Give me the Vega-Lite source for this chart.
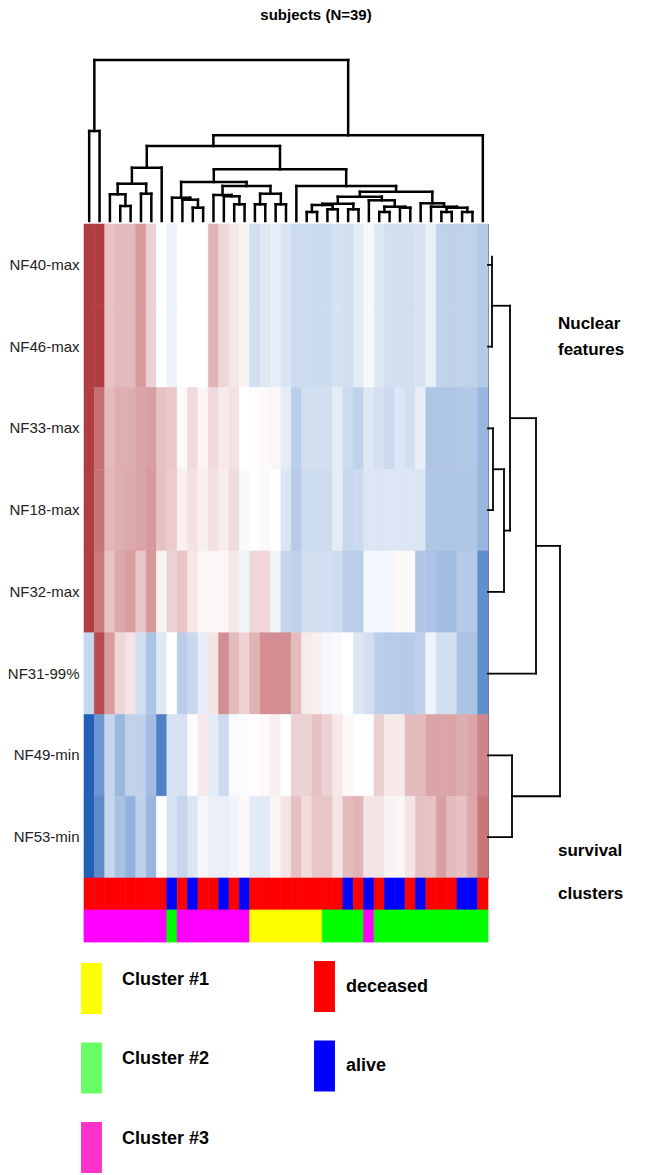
{
"$schema": "https://vega.github.io/schema/vega-lite/v6.json",
"background": "white",
"padding": {"left": 6, "top": 8, "right": 0, "bottom": 0},
"bounds": "flush",
"spacing": 0,
"config": {"view": {"stroke": null}, "font": "Liberation Sans"},
"resolve": {"scale": {"color": "independent", "stroke": "independent", "fill": "independent"}, "legend": {"color": "independent", "fill": "independent"}},
"datasets": {
"tree": [
{"x":0.5,"x2":1.5,"y":90,"y2":90},{"x":0.5,"x2":0.5,"y":0,"y2":90},{"x":1.5,"x2":1.5,"y":0,"y2":90},
{"x":3.5,"x2":4.5,"y":15,"y2":15},{"x":3.5,"x2":3.5,"y":0,"y2":15},{"x":4.5,"x2":4.5,"y":0,"y2":15},
{"x":2.5,"x2":4,"y":26.7,"y2":26.7},{"x":2.5,"x2":2.5,"y":0,"y2":26.7},{"x":4,"x2":4,"y":15,"y2":26.7},
{"x":5.5,"x2":6.5,"y":27.3,"y2":27.3},{"x":5.5,"x2":5.5,"y":0,"y2":27.3},{"x":6.5,"x2":6.5,"y":0,"y2":27.3},
{"x":3.25,"x2":6,"y":37.3,"y2":37.3},{"x":3.25,"x2":3.25,"y":26.7,"y2":37.3},{"x":6,"x2":6,"y":27.3,"y2":37.3},
{"x":4.625,"x2":7.5,"y":53.3,"y2":53.3},{"x":4.625,"x2":4.625,"y":37.3,"y2":53.3},{"x":7.5,"x2":7.5,"y":0,"y2":53.3},
{"x":10.5,"x2":11.5,"y":13.3,"y2":13.3},{"x":10.5,"x2":10.5,"y":0,"y2":13.3},{"x":11.5,"x2":11.5,"y":0,"y2":13.3},
{"x":9.5,"x2":11,"y":21.3,"y2":21.3},{"x":9.5,"x2":9.5,"y":0,"y2":21.3},{"x":11,"x2":11,"y":13.3,"y2":21.3},
{"x":8.5,"x2":10.25,"y":23.3,"y2":23.3},{"x":8.5,"x2":8.5,"y":0,"y2":23.3},{"x":10.25,"x2":10.25,"y":21.3,"y2":23.3},
{"x":14.5,"x2":15.5,"y":16.7,"y2":16.7},{"x":14.5,"x2":14.5,"y":0,"y2":16.7},{"x":15.5,"x2":15.5,"y":0,"y2":16.7},
{"x":13.5,"x2":15,"y":24.7,"y2":24.7},{"x":13.5,"x2":13.5,"y":0,"y2":24.7},{"x":15,"x2":15,"y":16.7,"y2":24.7},
{"x":12.5,"x2":14.25,"y":26,"y2":26},{"x":12.5,"x2":12.5,"y":0,"y2":26},{"x":14.25,"x2":14.25,"y":24.7,"y2":26},
{"x":16.5,"x2":17.5,"y":16.7,"y2":16.7},{"x":16.5,"x2":16.5,"y":0,"y2":16.7},{"x":17.5,"x2":17.5,"y":0,"y2":16.7},
{"x":18.5,"x2":19.5,"y":16.7,"y2":16.7},{"x":18.5,"x2":18.5,"y":0,"y2":16.7},{"x":19.5,"x2":19.5,"y":0,"y2":16.7},
{"x":17,"x2":19,"y":27.3,"y2":27.3},{"x":17,"x2":17,"y":16.7,"y2":27.3},{"x":19,"x2":19,"y":16.7,"y2":27.3},
{"x":13.375,"x2":18,"y":35,"y2":35},{"x":13.375,"x2":13.375,"y":26,"y2":35},{"x":18,"x2":18,"y":27.3,"y2":35},
{"x":9.375,"x2":15.6875,"y":39,"y2":39},{"x":9.375,"x2":9.375,"y":23.3,"y2":39},{"x":15.6875,"x2":15.6875,"y":35,"y2":39},
{"x":21.5,"x2":22.5,"y":9,"y2":9},{"x":21.5,"x2":21.5,"y":0,"y2":9},{"x":22.5,"x2":22.5,"y":0,"y2":9},
{"x":23.5,"x2":24.5,"y":11.7,"y2":11.7},{"x":23.5,"x2":23.5,"y":0,"y2":11.7},{"x":24.5,"x2":24.5,"y":0,"y2":11.7},
{"x":22,"x2":24,"y":16,"y2":16},{"x":22,"x2":22,"y":9,"y2":16},{"x":24,"x2":24,"y":11.7,"y2":16},
{"x":25.5,"x2":26.5,"y":11.7,"y2":11.7},{"x":25.5,"x2":25.5,"y":0,"y2":11.7},{"x":26.5,"x2":26.5,"y":0,"y2":11.7},
{"x":23,"x2":26,"y":17.3,"y2":17.3},{"x":23,"x2":23,"y":16,"y2":17.3},{"x":26,"x2":26,"y":11.7,"y2":17.3},
{"x":28.5,"x2":29.5,"y":9,"y2":9},{"x":28.5,"x2":28.5,"y":0,"y2":9},{"x":29.5,"x2":29.5,"y":0,"y2":9},
{"x":30.5,"x2":31.5,"y":13.3,"y2":13.3},{"x":30.5,"x2":30.5,"y":0,"y2":13.3},{"x":31.5,"x2":31.5,"y":0,"y2":13.3},
{"x":29,"x2":31,"y":14.3,"y2":14.3},{"x":29,"x2":29,"y":9,"y2":14.3},{"x":31,"x2":31,"y":13.3,"y2":14.3},
{"x":27.5,"x2":30,"y":20.7,"y2":20.7},{"x":27.5,"x2":27.5,"y":0,"y2":20.7},{"x":30,"x2":30,"y":14.3,"y2":20.7},
{"x":24.5,"x2":28.75,"y":24.3,"y2":24.3},{"x":24.5,"x2":24.5,"y":17.3,"y2":24.3},{"x":28.75,"x2":28.75,"y":20.7,"y2":24.3},
{"x":34.5,"x2":35.5,"y":9,"y2":9},{"x":34.5,"x2":34.5,"y":0,"y2":9},{"x":35.5,"x2":35.5,"y":0,"y2":9},
{"x":36.5,"x2":37.5,"y":9,"y2":9},{"x":36.5,"x2":36.5,"y":0,"y2":9},{"x":37.5,"x2":37.5,"y":0,"y2":9},
{"x":35,"x2":37,"y":13.3,"y2":13.3},{"x":35,"x2":35,"y":9,"y2":13.3},{"x":37,"x2":37,"y":9,"y2":13.3},
{"x":33.5,"x2":36,"y":14.3,"y2":14.3},{"x":33.5,"x2":33.5,"y":0,"y2":14.3},{"x":36,"x2":36,"y":13.3,"y2":14.3},
{"x":32.5,"x2":34.75,"y":17.7,"y2":17.7},{"x":32.5,"x2":32.5,"y":0,"y2":17.7},{"x":34.75,"x2":34.75,"y":14.3,"y2":17.7},
{"x":26.625,"x2":33.625,"y":29.3,"y2":29.3},{"x":26.625,"x2":26.625,"y":24.3,"y2":29.3},{"x":33.625,"x2":33.625,"y":17.7,"y2":29.3},
{"x":20.5,"x2":30.125,"y":35,"y2":35},{"x":20.5,"x2":20.5,"y":0,"y2":35},{"x":30.125,"x2":30.125,"y":29.3,"y2":35},
{"x":12.53,"x2":25.31,"y":51.7,"y2":51.7},{"x":12.53,"x2":12.53,"y":39,"y2":51.7},{"x":25.31,"x2":25.31,"y":35,"y2":51.7},
{"x":6.06,"x2":18.92,"y":75,"y2":75},{"x":6.06,"x2":6.06,"y":53.3,"y2":75},{"x":18.92,"x2":18.92,"y":51.7,"y2":75},
{"x":12.49,"x2":38.5,"y":85.7,"y2":85.7},{"x":12.49,"x2":12.49,"y":75,"y2":85.7},{"x":38.5,"x2":38.5,"y":0,"y2":85.7},
{"x":1,"x2":25.5,"y":161,"y2":161},{"x":1,"x2":1,"y":90,"y2":161},{"x":25.5,"x2":25.5,"y":85.7,"y2":161}
],
"rowtree": [
{"x":0,"x2":4,"y":0.5,"y2":0.5},{"x":0,"x2":4,"y":1.5,"y2":1.5},{"x":4,"x2":4,"y":0.4,"y2":1.5},
{"x":0,"x2":5,"y":2.5,"y2":2.5},{"x":0,"x2":5,"y":3.5,"y2":3.5},{"x":5,"x2":5,"y":2.5,"y2":3.5},
{"x":5,"x2":16,"y":3.0,"y2":3.0},{"x":0,"x2":16,"y":4.5,"y2":4.5},{"x":16,"x2":16,"y":3.0,"y2":4.5},
{"x":4,"x2":22,"y":1.0,"y2":1.0},{"x":16,"x2":22,"y":3.75,"y2":3.75},{"x":22,"x2":22,"y":1.0,"y2":3.75},
{"x":22,"x2":48,"y":2.375,"y2":2.375},{"x":0,"x2":48,"y":5.5,"y2":5.5},{"x":48,"x2":48,"y":2.375,"y2":5.5},
{"x":0,"x2":24,"y":6.5,"y2":6.5},{"x":0,"x2":24,"y":7.5,"y2":7.5},{"x":24,"x2":24,"y":6.5,"y2":7.5},
{"x":48,"x2":72,"y":3.9375,"y2":3.9375},{"x":24,"x2":72,"y":7.0,"y2":7.0},{"x":72,"x2":72,"y":3.9375,"y2":7.0}
],
"subj": [
{"c":0,"s":"deceased","k":"Cluster #3"},{"c":1,"s":"deceased","k":"Cluster #3"},{"c":2,"s":"deceased","k":"Cluster #3"},{"c":3,"s":"deceased","k":"Cluster #3"},
{"c":4,"s":"deceased","k":"Cluster #3"},{"c":5,"s":"deceased","k":"Cluster #3"},{"c":6,"s":"deceased","k":"Cluster #3"},{"c":7,"s":"deceased","k":"Cluster #3"},
{"c":8,"s":"alive","k":"Cluster #2"},{"c":9,"s":"deceased","k":"Cluster #3"},{"c":10,"s":"alive","k":"Cluster #3"},{"c":11,"s":"deceased","k":"Cluster #3"},
{"c":12,"s":"deceased","k":"Cluster #3"},{"c":13,"s":"alive","k":"Cluster #3"},{"c":14,"s":"deceased","k":"Cluster #3"},{"c":15,"s":"alive","k":"Cluster #3"},
{"c":16,"s":"deceased","k":"Cluster #1"},{"c":17,"s":"deceased","k":"Cluster #1"},{"c":18,"s":"deceased","k":"Cluster #1"},{"c":19,"s":"deceased","k":"Cluster #1"},
{"c":20,"s":"deceased","k":"Cluster #1"},{"c":21,"s":"deceased","k":"Cluster #1"},{"c":22,"s":"deceased","k":"Cluster #1"},{"c":23,"s":"deceased","k":"Cluster #2"},
{"c":24,"s":"deceased","k":"Cluster #2"},{"c":25,"s":"alive","k":"Cluster #2"},{"c":26,"s":"deceased","k":"Cluster #2"},{"c":27,"s":"alive","k":"Cluster #3"},
{"c":28,"s":"deceased","k":"Cluster #2"},{"c":29,"s":"alive","k":"Cluster #2"},{"c":30,"s":"alive","k":"Cluster #2"},{"c":31,"s":"deceased","k":"Cluster #2"},
{"c":32,"s":"alive","k":"Cluster #2"},{"c":33,"s":"deceased","k":"Cluster #2"},{"c":34,"s":"deceased","k":"Cluster #2"},{"c":35,"s":"deceased","k":"Cluster #2"},
{"c":36,"s":"alive","k":"Cluster #2"},{"c":37,"s":"alive","k":"Cluster #2"},{"c":38,"s":"deceased","k":"Cluster #2"}
],
"heat": [
{"r":"NF40-max","c":0,"v":0.95},{"r":"NF40-max","c":1,"v":0.95},{"r":"NF40-max","c":2,"v":0.3},{"r":"NF40-max","c":3,"v":0.33},{"r":"NF40-max","c":4,"v":0.33},{"r":"NF40-max","c":5,"v":0.5},{"r":"NF40-max","c":6,"v":0.23},{"r":"NF40-max","c":7,"v":0},{"r":"NF40-max","c":8,"v":-0.08},{"r":"NF40-max","c":9,"v":0},{"r":"NF40-max","c":10,"v":0},{"r":"NF40-max","c":11,"v":0},{"r":"NF40-max","c":12,"v":0.37},{"r":"NF40-max","c":13,"v":0.2},{"r":"NF40-max","c":14,"v":0.12},{"r":"NF40-max","c":15,"v":0.06},{"r":"NF40-max","c":16,"v":-0.2},{"r":"NF40-max","c":17,"v":-0.14},{"r":"NF40-max","c":18,"v":-0.1},{"r":"NF40-max","c":19,"v":-0.16},{"r":"NF40-max","c":20,"v":-0.22},{"r":"NF40-max","c":21,"v":-0.22},{"r":"NF40-max","c":22,"v":-0.23},{"r":"NF40-max","c":23,"v":-0.22},{"r":"NF40-max","c":24,"v":-0.18},{"r":"NF40-max","c":25,"v":-0.2},{"r":"NF40-max","c":26,"v":-0.12},{"r":"NF40-max","c":27,"v":-0.04},{"r":"NF40-max","c":28,"v":-0.14},{"r":"NF40-max","c":29,"v":-0.2},{"r":"NF40-max","c":30,"v":-0.2},{"r":"NF40-max","c":31,"v":-0.2},{"r":"NF40-max","c":32,"v":-0.17},{"r":"NF40-max","c":33,"v":-0.1},{"r":"NF40-max","c":34,"v":-0.28},{"r":"NF40-max","c":35,"v":-0.28},{"r":"NF40-max","c":36,"v":-0.28},{"r":"NF40-max","c":37,"v":-0.28},{"r":"NF40-max","c":38,"v":-0.33},
{"r":"NF46-max","c":0,"v":0.95},{"r":"NF46-max","c":1,"v":0.95},{"r":"NF46-max","c":2,"v":0.3},{"r":"NF46-max","c":3,"v":0.33},{"r":"NF46-max","c":4,"v":0.33},{"r":"NF46-max","c":5,"v":0.5},{"r":"NF46-max","c":6,"v":0.23},{"r":"NF46-max","c":7,"v":0},{"r":"NF46-max","c":8,"v":-0.08},{"r":"NF46-max","c":9,"v":0},{"r":"NF46-max","c":10,"v":0},{"r":"NF46-max","c":11,"v":0},{"r":"NF46-max","c":12,"v":0.37},{"r":"NF46-max","c":13,"v":0.2},{"r":"NF46-max","c":14,"v":0.12},{"r":"NF46-max","c":15,"v":0.06},{"r":"NF46-max","c":16,"v":-0.2},{"r":"NF46-max","c":17,"v":-0.14},{"r":"NF46-max","c":18,"v":-0.1},{"r":"NF46-max","c":19,"v":-0.16},{"r":"NF46-max","c":20,"v":-0.22},{"r":"NF46-max","c":21,"v":-0.22},{"r":"NF46-max","c":22,"v":-0.23},{"r":"NF46-max","c":23,"v":-0.22},{"r":"NF46-max","c":24,"v":-0.18},{"r":"NF46-max","c":25,"v":-0.2},{"r":"NF46-max","c":26,"v":-0.12},{"r":"NF46-max","c":27,"v":-0.04},{"r":"NF46-max","c":28,"v":-0.14},{"r":"NF46-max","c":29,"v":-0.2},{"r":"NF46-max","c":30,"v":-0.2},{"r":"NF46-max","c":31,"v":-0.2},{"r":"NF46-max","c":32,"v":-0.17},{"r":"NF46-max","c":33,"v":-0.1},{"r":"NF46-max","c":34,"v":-0.28},{"r":"NF46-max","c":35,"v":-0.28},{"r":"NF46-max","c":36,"v":-0.28},{"r":"NF46-max","c":37,"v":-0.28},{"r":"NF46-max","c":38,"v":-0.33},
{"r":"NF33-max","c":0,"v":0.95},{"r":"NF33-max","c":1,"v":0.7},{"r":"NF33-max","c":2,"v":0.33},{"r":"NF33-max","c":3,"v":0.4},{"r":"NF33-max","c":4,"v":0.4},{"r":"NF33-max","c":5,"v":0.45},{"r":"NF33-max","c":6,"v":0.47},{"r":"NF33-max","c":7,"v":0.3},{"r":"NF33-max","c":8,"v":0.27},{"r":"NF33-max","c":9,"v":0.03},{"r":"NF33-max","c":10,"v":0.18},{"r":"NF33-max","c":11,"v":0.05},{"r":"NF33-max","c":12,"v":0.18},{"r":"NF33-max","c":13,"v":0.1},{"r":"NF33-max","c":14,"v":0.14},{"r":"NF33-max","c":15,"v":0},{"r":"NF33-max","c":16,"v":-0.02},{"r":"NF33-max","c":17,"v":0.03},{"r":"NF33-max","c":18,"v":0.04},{"r":"NF33-max","c":19,"v":-0.12},{"r":"NF33-max","c":20,"v":-0.3},{"r":"NF33-max","c":21,"v":-0.2},{"r":"NF33-max","c":22,"v":-0.2},{"r":"NF33-max","c":23,"v":-0.2},{"r":"NF33-max","c":24,"v":-0.12},{"r":"NF33-max","c":25,"v":-0.22},{"r":"NF33-max","c":26,"v":-0.28},{"r":"NF33-max","c":27,"v":-0.14},{"r":"NF33-max","c":28,"v":-0.19},{"r":"NF33-max","c":29,"v":-0.23},{"r":"NF33-max","c":30,"v":-0.15},{"r":"NF33-max","c":31,"v":-0.2},{"r":"NF33-max","c":32,"v":-0.1},{"r":"NF33-max","c":33,"v":-0.36},{"r":"NF33-max","c":34,"v":-0.36},{"r":"NF33-max","c":35,"v":-0.36},{"r":"NF33-max","c":36,"v":-0.34},{"r":"NF33-max","c":37,"v":-0.34},{"r":"NF33-max","c":38,"v":-0.45},
{"r":"NF18-max","c":0,"v":0.95},{"r":"NF18-max","c":1,"v":0.68},{"r":"NF18-max","c":2,"v":0.35},{"r":"NF18-max","c":3,"v":0.4},{"r":"NF18-max","c":4,"v":0.42},{"r":"NF18-max","c":5,"v":0.45},{"r":"NF18-max","c":6,"v":0.5},{"r":"NF18-max","c":7,"v":0.3},{"r":"NF18-max","c":8,"v":0.25},{"r":"NF18-max","c":9,"v":0.08},{"r":"NF18-max","c":10,"v":0.14},{"r":"NF18-max","c":11,"v":0.08},{"r":"NF18-max","c":12,"v":0.15},{"r":"NF18-max","c":13,"v":0.09},{"r":"NF18-max","c":14,"v":0.18},{"r":"NF18-max","c":15,"v":-0.03},{"r":"NF18-max","c":16,"v":0},{"r":"NF18-max","c":17,"v":0.03},{"r":"NF18-max","c":18,"v":0},{"r":"NF18-max","c":19,"v":-0.16},{"r":"NF18-max","c":20,"v":-0.32},{"r":"NF18-max","c":21,"v":-0.22},{"r":"NF18-max","c":22,"v":-0.22},{"r":"NF18-max","c":23,"v":-0.22},{"r":"NF18-max","c":24,"v":-0.12},{"r":"NF18-max","c":25,"v":-0.25},{"r":"NF18-max","c":26,"v":-0.22},{"r":"NF18-max","c":27,"v":-0.16},{"r":"NF18-max","c":28,"v":-0.16},{"r":"NF18-max","c":29,"v":-0.16},{"r":"NF18-max","c":30,"v":-0.16},{"r":"NF18-max","c":31,"v":-0.16},{"r":"NF18-max","c":32,"v":-0.16},{"r":"NF18-max","c":33,"v":-0.35},{"r":"NF18-max","c":34,"v":-0.35},{"r":"NF18-max","c":35,"v":-0.35},{"r":"NF18-max","c":36,"v":-0.35},{"r":"NF18-max","c":37,"v":-0.35},{"r":"NF18-max","c":38,"v":-0.45},
{"r":"NF32-max","c":0,"v":0.95},{"r":"NF32-max","c":1,"v":0.65},{"r":"NF32-max","c":2,"v":0.3},{"r":"NF32-max","c":3,"v":0.43},{"r":"NF32-max","c":4,"v":0.48},{"r":"NF32-max","c":5,"v":0.28},{"r":"NF32-max","c":6,"v":0.5},{"r":"NF32-max","c":7,"v":0.06},{"r":"NF32-max","c":8,"v":0.22},{"r":"NF32-max","c":9,"v":0.29},{"r":"NF32-max","c":10,"v":0.12},{"r":"NF32-max","c":11,"v":0.04},{"r":"NF32-max","c":12,"v":0.04},{"r":"NF32-max","c":13,"v":0.04},{"r":"NF32-max","c":14,"v":0.12},{"r":"NF32-max","c":15,"v":-0.07},{"r":"NF32-max","c":16,"v":0.2},{"r":"NF32-max","c":17,"v":0.2},{"r":"NF32-max","c":18,"v":-0.06},{"r":"NF32-max","c":19,"v":-0.26},{"r":"NF32-max","c":20,"v":-0.28},{"r":"NF32-max","c":21,"v":-0.2},{"r":"NF32-max","c":22,"v":-0.2},{"r":"NF32-max","c":23,"v":-0.2},{"r":"NF32-max","c":24,"v":-0.22},{"r":"NF32-max","c":25,"v":-0.3},{"r":"NF32-max","c":26,"v":-0.3},{"r":"NF32-max","c":27,"v":-0.05},{"r":"NF32-max","c":28,"v":-0.05},{"r":"NF32-max","c":29,"v":-0.05},{"r":"NF32-max","c":30,"v":0.03},{"r":"NF32-max","c":31,"v":0.03},{"r":"NF32-max","c":32,"v":-0.35},{"r":"NF32-max","c":33,"v":-0.37},{"r":"NF32-max","c":34,"v":-0.41},{"r":"NF32-max","c":35,"v":-0.41},{"r":"NF32-max","c":36,"v":-0.33},{"r":"NF32-max","c":37,"v":-0.33},{"r":"NF32-max","c":38,"v":-0.7},
{"r":"NF31-99%","c":0,"v":-0.25},{"r":"NF31-99%","c":1,"v":0.88},{"r":"NF31-99%","c":2,"v":0.48},{"r":"NF31-99%","c":3,"v":0.2},{"r":"NF31-99%","c":4,"v":0.13},{"r":"NF31-99%","c":5,"v":-0.2},{"r":"NF31-99%","c":6,"v":-0.37},{"r":"NF31-99%","c":7,"v":-0.14},{"r":"NF31-99%","c":8,"v":0},{"r":"NF31-99%","c":9,"v":-0.3},{"r":"NF31-99%","c":10,"v":-0.24},{"r":"NF31-99%","c":11,"v":-0.1},{"r":"NF31-99%","c":12,"v":0.13},{"r":"NF31-99%","c":13,"v":0.55},{"r":"NF31-99%","c":14,"v":0.33},{"r":"NF31-99%","c":15,"v":0.22},{"r":"NF31-99%","c":16,"v":0.37},{"r":"NF31-99%","c":17,"v":0.55},{"r":"NF31-99%","c":18,"v":0.55},{"r":"NF31-99%","c":19,"v":0.55},{"r":"NF31-99%","c":20,"v":0.33},{"r":"NF31-99%","c":21,"v":0.1},{"r":"NF31-99%","c":22,"v":0.08},{"r":"NF31-99%","c":23,"v":-0.05},{"r":"NF31-99%","c":24,"v":-0.03},{"r":"NF31-99%","c":25,"v":0},{"r":"NF31-99%","c":26,"v":-0.15},{"r":"NF31-99%","c":27,"v":-0.19},{"r":"NF31-99%","c":28,"v":-0.29},{"r":"NF31-99%","c":29,"v":-0.32},{"r":"NF31-99%","c":30,"v":-0.32},{"r":"NF31-99%","c":31,"v":-0.32},{"r":"NF31-99%","c":32,"v":-0.28},{"r":"NF31-99%","c":33,"v":-0.07},{"r":"NF31-99%","c":34,"v":-0.2},{"r":"NF31-99%","c":35,"v":-0.2},{"r":"NF31-99%","c":36,"v":-0.37},{"r":"NF31-99%","c":37,"v":-0.37},{"r":"NF31-99%","c":38,"v":-0.7},
{"r":"NF49-min","c":0,"v":-0.98},{"r":"NF49-min","c":1,"v":-0.65},{"r":"NF49-min","c":2,"v":-0.26},{"r":"NF49-min","c":3,"v":-0.44},{"r":"NF49-min","c":4,"v":-0.28},{"r":"NF49-min","c":5,"v":-0.28},{"r":"NF49-min","c":6,"v":-0.41},{"r":"NF49-min","c":7,"v":-0.78},{"r":"NF49-min","c":8,"v":-0.18},{"r":"NF49-min","c":9,"v":-0.18},{"r":"NF49-min","c":10,"v":0.02},{"r":"NF49-min","c":11,"v":0.1},{"r":"NF49-min","c":12,"v":-0.12},{"r":"NF49-min","c":13,"v":-0.23},{"r":"NF49-min","c":14,"v":-0.03},{"r":"NF49-min","c":15,"v":-0.02},{"r":"NF49-min","c":16,"v":0},{"r":"NF49-min","c":17,"v":0.03},{"r":"NF49-min","c":18,"v":0.08},{"r":"NF49-min","c":19,"v":0},{"r":"NF49-min","c":20,"v":0.22},{"r":"NF49-min","c":21,"v":0.22},{"r":"NF49-min","c":22,"v":0.3},{"r":"NF49-min","c":23,"v":0.22},{"r":"NF49-min","c":24,"v":0.11},{"r":"NF49-min","c":25,"v":0.03},{"r":"NF49-min","c":26,"v":-0.01},{"r":"NF49-min","c":27,"v":-0.01},{"r":"NF49-min","c":28,"v":0.23},{"r":"NF49-min","c":29,"v":0.1},{"r":"NF49-min","c":30,"v":0.1},{"r":"NF49-min","c":31,"v":0.33},{"r":"NF49-min","c":32,"v":0.33},{"r":"NF49-min","c":33,"v":0.44},{"r":"NF49-min","c":34,"v":0.44},{"r":"NF49-min","c":35,"v":0.44},{"r":"NF49-min","c":36,"v":0.4},{"r":"NF49-min","c":37,"v":0.44},{"r":"NF49-min","c":38,"v":0.6},
{"r":"NF53-min","c":0,"v":-0.98},{"r":"NF53-min","c":1,"v":-0.72},{"r":"NF53-min","c":2,"v":-0.25},{"r":"NF53-min","c":3,"v":-0.38},{"r":"NF53-min","c":4,"v":-0.48},{"r":"NF53-min","c":5,"v":-0.28},{"r":"NF53-min","c":6,"v":-0.45},{"r":"NF53-min","c":7,"v":0.01},{"r":"NF53-min","c":8,"v":-0.18},{"r":"NF53-min","c":9,"v":-0.26},{"r":"NF53-min","c":10,"v":-0.16},{"r":"NF53-min","c":11,"v":-0.05},{"r":"NF53-min","c":12,"v":-0.09},{"r":"NF53-min","c":13,"v":-0.1},{"r":"NF53-min","c":14,"v":-0.06},{"r":"NF53-min","c":15,"v":0.03},{"r":"NF53-min","c":16,"v":-0.13},{"r":"NF53-min","c":17,"v":-0.13},{"r":"NF53-min","c":18,"v":0.05},{"r":"NF53-min","c":19,"v":0.13},{"r":"NF53-min","c":20,"v":0.31},{"r":"NF53-min","c":21,"v":0.17},{"r":"NF53-min","c":22,"v":0.28},{"r":"NF53-min","c":23,"v":0.28},{"r":"NF53-min","c":24,"v":0.13},{"r":"NF53-min","c":25,"v":0.33},{"r":"NF53-min","c":26,"v":0.36},{"r":"NF53-min","c":27,"v":0.13},{"r":"NF53-min","c":28,"v":0.13},{"r":"NF53-min","c":29,"v":0.06},{"r":"NF53-min","c":30,"v":0.04},{"r":"NF53-min","c":31,"v":0.13},{"r":"NF53-min","c":32,"v":0.3},{"r":"NF53-min","c":33,"v":0.3},{"r":"NF53-min","c":34,"v":0.47},{"r":"NF53-min","c":35,"v":0.33},{"r":"NF53-min","c":36,"v":0.3},{"r":"NF53-min","c":37,"v":0.43},{"r":"NF53-min","c":38,"v":0.67}
]
},
"vconcat": [
{
"width": 404, "height": 164,
"title": {"text": "subjects (N=39)", "fontSize": 15, "fontWeight": "bold", "font": "Liberation Sans", "color": "black", "anchor": "middle", "dx": 30, "offset": 35},
"data": {"name": "tree"},
"mark": {"type": "rule", "color": "black", "strokeWidth": 2.5, "strokeCap": "square"},
"encoding": {
"x": {"field": "x", "type": "quantitative", "scale": {"domain": [0, 39], "nice": false, "zero": false}, "axis": null},
"x2": {"field": "x2"},
"y": {"field": "y", "type": "quantitative", "scale": {"domain": [-3, 161], "nice": false, "zero": false}, "axis": null},
"y2": {"field": "y2"}
}
},
{
"width": 404, "height": 654,
"view": {"stroke": "#777", "strokeWidth": 1},
"resolve": {"scale": {"x": "independent", "y": "independent"}},
"layer": [
{
"data": {"name": "heat"},
"mark": {"type": "rect", "strokeWidth": 0.6},
"encoding": {
"x": {"field": "c", "type": "ordinal", "axis": null, "scale": {"paddingInner": 0, "paddingOuter": 0}},
"y": {"field": "r", "type": "nominal", "title": null, "sort": ["NF40-max","NF46-max","NF33-max","NF18-max","NF32-max","NF31-99%","NF49-min","NF53-min"], "scale": {"paddingInner": 0, "paddingOuter": 0}, "axis": {"ticks": false, "domain": false, "labelPadding": 5, "labelFontSize": 15, "labelFont": "Liberation Sans", "labelColor": "#222"}},
"color": {"field": "v", "type": "quantitative", "scale": {"domain": [-1, 0, 1], "range": ["#1d5db6", "#ffffff", "#ad3238"], "interpolate": "rgb"}, "legend": null},
"stroke": {"field": "v", "type": "quantitative", "scale": {"domain": [-1, 0, 1], "range": ["#1d5db6", "#ffffff", "#ad3238"], "interpolate": "rgb"}, "legend": null}
}
},
{
"layer": [
{
"data": {"name": "rowtree"},
"mark": {"type": "rule", "color": "black", "strokeWidth": 1.8, "strokeCap": "square"},
"encoding": {
"x": {"field": "x", "type": "quantitative", "scale": {"domain": [0, 130], "range": [404, 534], "nice": false, "zero": false}, "axis": null},
"x2": {"field": "x2"},
"y": {"field": "y", "type": "quantitative", "scale": {"domain": [0, 8], "reverse": true, "nice": false, "zero": false}, "axis": null},
"y2": {"field": "y2"}
}
},
{"data": {"values": [{}]}, "mark": {"type": "text", "text": "Nuclear", "align": "left", "baseline": "middle", "fontSize": 17, "fontWeight": "bold", "font": "Liberation Sans", "color": "black"}, "encoding": {"x": {"datum": 70}, "y": {"datum": 1.22}}},
{"data": {"values": [{}]}, "mark": {"type": "text", "text": "features", "align": "left", "baseline": "middle", "fontSize": 17, "fontWeight": "bold", "font": "Liberation Sans", "color": "black"}, "encoding": {"x": {"datum": 70}, "y": {"datum": 1.54}}},
{"data": {"values": [{}]}, "mark": {"type": "text", "text": "survival", "align": "left", "baseline": "middle", "fontSize": 17, "fontWeight": "bold", "font": "Liberation Sans", "color": "black"}, "encoding": {"x": {"datum": 70}, "y": {"datum": 7.67}}},
{"data": {"values": [{}]}, "mark": {"type": "text", "text": "clusters", "align": "left", "baseline": "middle", "fontSize": 17, "fontWeight": "bold", "font": "Liberation Sans", "color": "black"}, "encoding": {"x": {"datum": 70}, "y": {"datum": 8.2}}}
]
}
]
},
{
"width": 404, "height": 32,
"data": {"name": "subj"},
"mark": {"type": "rect", "strokeWidth": 0.6},
"encoding": {
"x": {"field": "c", "type": "ordinal", "axis": null, "scale": {"paddingInner": 0, "paddingOuter": 0}},
"color": {"field": "s", "type": "nominal", "scale": {"domain": ["deceased", "alive"], "range": ["#ff0000", "#0000ff"]},
"legend": {"orient": "none", "legendX": 215, "legendY": 83, "title": null, "padding": 0, "direction": "vertical", "symbolType": "M-0.41,-1H0.41V1H-0.41Z", "symbolSize": 2601, "symbolStrokeWidth": 0, "labelFont": "Liberation Sans", "labelFontSize": 18, "labelFontWeight": "bold", "labelColor": "black", "labelOffset": -4, "rowPadding": 28.5, "labelBaseline": "middle"}},
"stroke": {"field": "s", "type": "nominal", "scale": {"domain": ["deceased", "alive"], "range": ["#ff0000", "#0000ff"]}, "legend": null}
}
},
{
"width": 404, "height": 32,
"data": {"name": "subj"},
"layer": [
{
"mark": {"type": "rect"},
"encoding": {
"x": {"field": "c", "type": "ordinal", "axis": null, "scale": {"paddingInner": 0, "paddingOuter": 0}},
"fill": {"field": "k", "type": "nominal", "scale": {"domain": ["Cluster #1", "Cluster #2", "Cluster #3"], "range": ["#ffff00", "#66ff66", "#ff33cc"]},
"legend": {"orient": "none", "legendX": -18, "legendY": 53, "title": null, "padding": 0, "direction": "vertical", "symbolType": "M-0.41,-1H0.41V1H-0.41Z", "symbolSize": 2601, "symbolStrokeWidth": 0, "labelFont": "Liberation Sans", "labelFontSize": 18, "labelFontWeight": "bold", "labelColor": "black", "labelOffset": 5, "rowPadding": 28.5, "labelBaseline": "bottom"}}
}
},
{
"mark": {"type": "rect", "strokeWidth": 0.8},
"encoding": {
"x": {"field": "c", "type": "ordinal", "axis": null, "scale": {"paddingInner": 0, "paddingOuter": 0}},
"color": {"field": "k", "type": "nominal", "scale": {"domain": ["Cluster #1", "Cluster #2", "Cluster #3"], "range": ["#ffff00", "#00ff00", "#ff00ff"]}, "legend": null},
"stroke": {"field": "k", "type": "nominal", "scale": {"domain": ["Cluster #1", "Cluster #2", "Cluster #3"], "range": ["#ffff00", "#00ff00", "#ff00ff"]}, "legend": null}
}
}
]
}
]
}
